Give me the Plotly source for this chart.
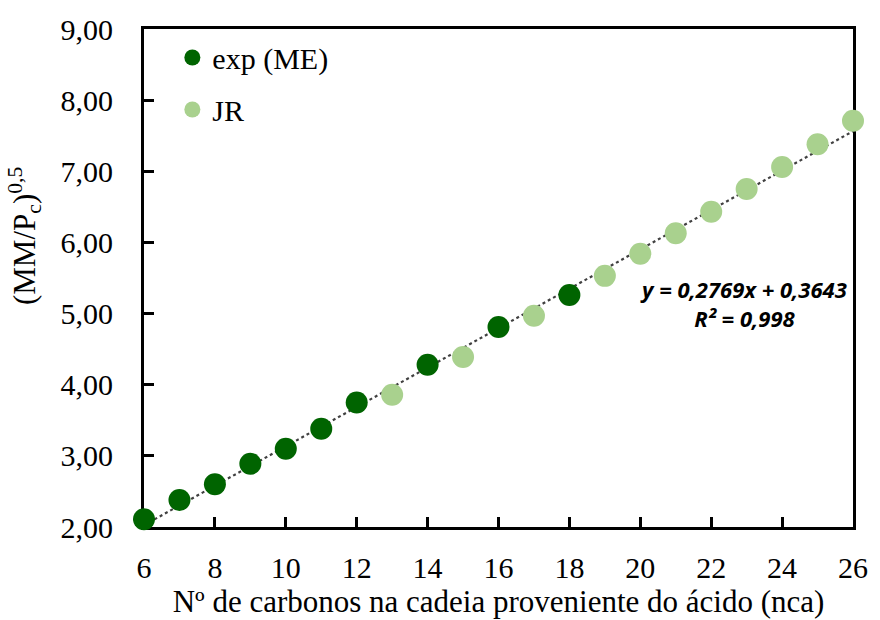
import plotly.graph_objects as go

# Number of carbons from the acid chain and (MM/Pc)^0.5 values
exp_nca = [6, 7, 8, 9, 10, 11, 12, 14, 16, 18]
exp_val = [2.11, 2.38, 2.60, 2.89, 3.10, 3.38, 3.75, 4.28, 4.81, 5.26]

jr_nca = [13, 15, 17, 19, 20, 21, 22, 23, 24, 25, 26]
jr_val = [3.86, 4.39, 4.97, 5.53, 5.84, 6.13, 6.43, 6.75, 7.06, 7.38, 7.71]

# Linear trendline coefficients
slope = 0.2769
intercept = 0.3643
r2 = 0.998
trend_x = [6, 26]
trend_y = [slope * x + intercept for x in trend_x]

x_ticks = [6, 8, 10, 12, 14, 16, 18, 20, 22, 24, 26]
y_ticks = [2, 3, 4, 5, 6, 7, 8, 9]

SERIF = "Liberation Serif"

fig = go.Figure()

fig.add_trace(go.Scatter(
    x=trend_x, y=trend_y, mode="lines", showlegend=False,
    line=dict(color="#404040", width=2.2, dash="dot"),
    hoverinfo="skip",
))
fig.add_trace(go.Scatter(
    x=exp_nca, y=exp_val, mode="markers", name="exp (ME)", legendgroup="a",
    marker=dict(color="#006400", size=22), cliponaxis=False,
))
fig.add_trace(go.Scatter(
    x=jr_nca, y=jr_val, mode="markers", name="JR", legendgroup="b",
    marker=dict(color="#A9D18E", size=22), cliponaxis=False,
))

def fmt(v):
    return f"{v:.2f}".replace(".", ",")

fig.update_layout(
    width=880, height=620,
    margin=dict(l=144, r=18, t=28, b=90),
    paper_bgcolor="white", plot_bgcolor="white",
    font=dict(family=SERIF, size=30, color="black"),
    showlegend=True,
    legend=dict(
        x=0.04, y=0.995, xanchor="left", yanchor="top",
        bgcolor="rgba(0,0,0,0)", font=dict(family=SERIF, size=30),
        itemwidth=30, tracegroupgap=10,
    ),
    xaxis=dict(
        range=[6, 26], tickvals=x_ticks, ticktext=[str(t) for t in x_ticks],
        showline=True, linecolor="black", linewidth=3, mirror=True,
        ticks="inside", ticklen=10, tickwidth=2.5, tickcolor="black",
        showgrid=False, zeroline=False, layer="below traces",
        ticklabelstandoff=12,
        tickfont=dict(family=SERIF, size=30),
        title=dict(text="Nº de carbonos na cadeia proveniente do ácido (nca)",
                   font=dict(family=SERIF, size=31), standoff=2),
    ),
    yaxis=dict(
        range=[2, 9], tickvals=y_ticks, ticktext=[fmt(t) for t in y_ticks],
        showline=True, linecolor="black", linewidth=3, mirror=True,
        ticks="inside", ticklen=10, tickwidth=2.5, tickcolor="black",
        showgrid=False, zeroline=False, layer="below traces",
        ticklabelstandoff=22,
        tickfont=dict(family=SERIF, size=30),
    ),
)

# Rotated y-axis title
fig.add_annotation(
    text="(MM/P<sub>c</sub>)<sup>0,5</sup>",
    xref="paper", yref="paper", x=-0.168, y=0.584,
    xanchor="center", yanchor="middle", textangle=-90, showarrow=False,
    font=dict(family=SERIF, size=31),
)

# Trendline equation
eq = f"y = {slope:.4f}x + {intercept:.4f}".replace(".", ",")
r2_txt = f"R² = {r2:.3f}".replace(".", ",")
fig.add_annotation(
    text=f"<b><i>{eq}</i></b><br><b><i>{r2_txt}</i></b>",
    x=22.9, y=5.14, xref="x", yref="y", showarrow=False,
    align="center", xanchor="center", yanchor="middle",
    font=dict(family="Open Sans", size=22, color="black"),
)

fig.write_html("out.html")
